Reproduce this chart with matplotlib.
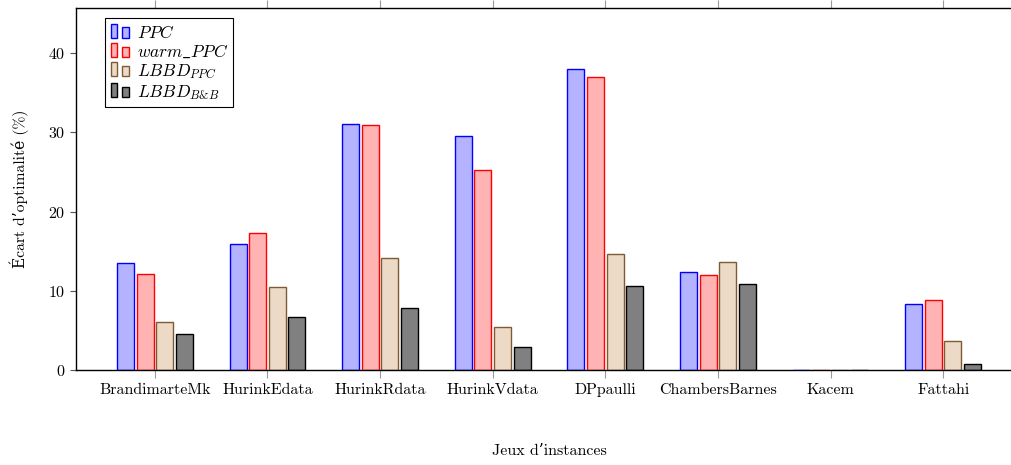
import numpy as np
import matplotlib
matplotlib.use("Agg")
import matplotlib.pyplot as plt
from matplotlib.patches import Rectangle
from matplotlib.legend_handler import HandlerBase

plt.rcParams['font.family'] = ['cmr10', 'DejaVu Serif']
plt.rcParams['mathtext.fontset'] = 'cm'
plt.rcParams['axes.formatter.use_mathtext'] = True

categories = ['BrandimarteMk', 'HurinkEdata', 'HurinkRdata', 'HurinkVdata',
              'DPpaulli', 'ChambersBarnes', 'Kacem', 'Fattahi']
ppc = [13.5, 15.9, 31.0, 29.5, 38.0, 12.4, 0.0, 8.3]
warm_ppc = [12.1, 17.3, 30.9, 25.2, 37.0, 12.0, 0.0, 8.8]
lbbd_ppc = [6.1, 10.5, 14.2, 5.4, 14.6, 13.6, 0.0, 3.7]
lbbd_bb = [4.5, 6.7, 7.8, 2.9, 10.6, 10.9, 0.0, 0.8]

series = [
    (ppc, r'$PPC$', '#b3b3ff', 'blue'),
    (warm_ppc, r'$warm\_PPC$', '#ffb3b3', 'red'),
    (lbbd_ppc, r'$LBBD_{PPC}$', '#ecd9c6', '#7f5a33'),
    (lbbd_bb, r'$LBBD_{B&B}$', '#808080', 'black'),
]


class TwoBars(HandlerBase):
    # pgfplots-style legend image: two little bars
    def create_artists(self, legend, orig, xd, yd, w, h, fontsize, trans):
        fc = orig.get_facecolor()
        ec = orig.get_edgecolor()
        bw = w * 0.32
        r1 = Rectangle((xd + 0.0 * w, yd), bw, h * 1.15, fc=fc, ec=ec, lw=1, transform=trans)
        r2 = Rectangle((xd + 0.55 * w, yd), bw, h * 0.85, fc=fc, ec=ec, lw=1, transform=trans)
        return [r1, r2]


fig = plt.figure(figsize=(10.11, 4.65), dpi=100)
ax = fig.add_axes([76 / 1011, 95 / 465, (1022 - 76) / 1011, (370 - 8) / 465])

x = np.arange(len(categories))
step = 0.174
width = 0.151
handles = []
for i, (vals, label, fc, ec) in enumerate(series):
    bars = ax.bar(x + (i - 1.5) * step, vals, width, color=fc, edgecolor=ec,
                  linewidth=1, label=label)
    handles.append(bars.patches[0])

ax.set_xlim(-0.7, 7.7)
ax.set_ylim(0, 45.7)
ax.set_xticks(x)
ax.set_xticklabels(categories, fontsize=11.5)
ax.set_yticks([0, 10, 20, 30, 40])
ax.tick_params(axis='y', labelsize=11.5, direction='out', length=4, color='#555555')
ax.tick_params(axis='x', direction='out', length=6, color='#999999', top=True)
ax.spines['right'].set_visible(False)
for s in ['left', 'top', 'bottom']:
    ax.spines[s].set_linewidth(1)

ax.set_xlabel("Jeux d’instances", fontsize=11.5, labelpad=34)
ax.set_ylabel("Écart d’optimalité (%)", fontsize=11.2, labelpad=14)

leg = ax.legend(handles, [s[1] for s in series], loc='upper left',
                bbox_to_anchor=(0.022, 0.995), handler_map={Rectangle: TwoBars()},
                fontsize=12.5, frameon=True, fancybox=False, edgecolor='black',
                framealpha=1, handlelength=1.2, handletextpad=0.3,
                labelspacing=0.12, borderpad=0.3)
leg.get_frame().set_linewidth(0.8)

fig.savefig("out.png", dpi=100)
